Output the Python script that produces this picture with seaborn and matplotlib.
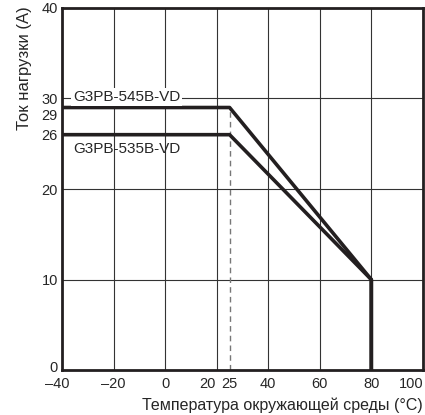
import matplotlib
matplotlib.use("Agg")

import pandas as pd
import matplotlib.pyplot as plt
import matplotlib.transforms as mtransforms
import seaborn as sns

# -------------------------
# DATA
# -------------------------
temp_545 = [-40, 25, 80, 80]
load_545 = [29, 29, 10, 0]

temp_535 = [-40, 25, 80, 80]
load_535 = [26, 26, 10, 0]

x_ticks = [-40, -20, 0, 20, 25, 40, 60, 80, 100]
x_labels = ["\u201340", "\u201320", "0", "20", "25", "40", "60", "80", "100"]
y_ticks = [0, 10, 20, 26, 29, 30, 40]
grid_x = [-20, 0, 20, 40, 60, 80]
grid_y = [10, 20, 30]

df = pd.concat([
    pd.DataFrame({"t": temp_545, "i": load_545, "model": "G3PB-545B-VD"}),
    pd.DataFrame({"t": temp_535, "i": load_535, "model": "G3PB-535B-VD"}),
])

sns.set_theme(style="white")
plt.rcParams["font.family"] = ["Liberation Sans", "DejaVu Sans"]

fig = plt.figure(figsize=(4.25, 4.15), dpi=100)
ax = fig.add_axes([0.146, 0.108, 0.849, 0.873])

# grid
for gx in grid_x:
    ax.axvline(gx, color="#333333", lw=0.8, zorder=1)
for gy in grid_y:
    ax.axhline(gy, color="#333333", lw=0.8, zorder=1)

# dashed line at 25 C
ax.plot([25, 25], [0, 29], color="#777777", lw=1.0, ls=(0, (4, 3)), zorder=2)

sns.lineplot(
    data=df,
    x="t",
    y="i",
    units="model",
    estimator=None,
    sort=False,
    color="#231f20",
    lw=2.6,
    ax=ax,
    zorder=3
)

ax.text(-35.8, 30.2, "G3PB-545B-VD", fontsize=11, va="center", ha="left",
        bbox=dict(facecolor="white", edgecolor="none", pad=1.5), zorder=4)
ax.text(-35.8, 24.4, "G3PB-535B-VD", fontsize=11, va="center", ha="left",
        zorder=4)

ax.set_xlim(-40, 100)
ax.set_ylim(0, 40)
ax.set_xticks(x_ticks)
ax.set_xticklabels(x_labels, fontsize=10.5)
ax.set_yticks(y_ticks)
ax.set_yticklabels([str(v) for v in y_ticks], fontsize=10.5)
ax.tick_params(axis="x", length=0, pad=5)
ax.tick_params(axis="y", length=0, pad=3)

# nudge crowded tick labels (pixels)
x_shift = {"\u201340": -5, "20": -9, "100": -12}
for lab in ax.get_xticklabels():
    dx = x_shift.get(lab.get_text(), 0)
    if dx:
        lab.set_transform(lab.get_transform() + mtransforms.ScaledTranslation(dx / 100, 0, fig.dpi_scale_trans))
y_shift = {"29": -7, "0": 4}
for lab in ax.get_yticklabels():
    dy = y_shift.get(lab.get_text(), 0)
    if dy:
        lab.set_transform(lab.get_transform() + mtransforms.ScaledTranslation(0, dy / 100, fig.dpi_scale_trans))

for s in ax.spines.values():
    s.set_color("#231f20")
    s.set_linewidth(2)

ax.set_xlabel("")
ax.set_ylabel("")
fig.text(0.058, 0.985, "Ток нагрузки (A)", rotation=90, fontsize=12,
         ha="center", va="top")
fig.text(0.995, 0.024, "Температура окружающей среды (°C)", fontsize=11.5,
         ha="right", va="center")

plt.savefig("out.png", dpi=100)
plt.close()
